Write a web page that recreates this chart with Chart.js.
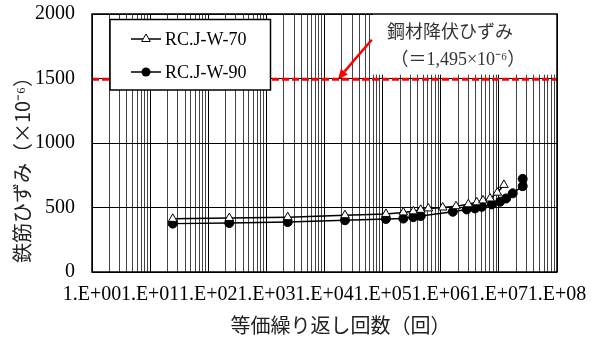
<!DOCTYPE html>
<html><head><meta charset="utf-8">
<script src="https://cdn.jsdelivr.net/npm/chart.js@4"></script>
<style>html,body{margin:0;padding:0;background:#fff}#wrap{width:593px;height:338px}</style>
</head><body><div id="wrap"><canvas id="c" width="593" height="338"></canvas></div>
<script>
// ---- data ----
const seriesNames = ['RC.J-W-70', 'RC.J-W-90'];
const cycles70 = [24.5, 230, 2330, 22500, 114000, 227000, 337000, 452000, 611000, 1080000, 1830000, 2980000, 4160000, 5330000, 7040000, 9400000, 12200000];
const strain70 = [412, 418, 425, 440, 450, 462, 470, 482, 493, 500, 510, 525, 540, 555, 570, 615, 675];
const cycles90 = [24.5, 230, 2330, 22500, 114000, 227000, 337000, 452000, 1610000, 2800000, 3880000, 5070000, 7530000, 10500000, 13300000, 17300000, 25700000, 25700000];
const strain90 = [375, 380, 387, 401, 411, 414, 425, 434, 467, 485, 493, 505, 524, 545, 570, 610, 665, 722];
const yieldStrain = 1495;
const yieldRange = [1, 1e8];
const xTickLabels = ['1.E+00', '1.E+01', '1.E+02', '1.E+03', '1.E+04', '1.E+05', '1.E+06', '1.E+07', '1.E+08'];
const yTickValues = [0, 500, 1000, 1500, 2000];
const xTitle = '等価繰り返し回数（回）';
const yTitle = '鉄筋ひずみ（×10⁻⁶）';
const noteLines = ['鋼材降伏ひずみ', '（＝1,495×10⁻⁶）'];
const arrowFrom = [65000, 1800];
const arrowTo = [17000, 1495];
const noteBoxCorner = [68000, 1530];

// log tick values 1..9 x 10^e
const xTickValues = [];
for (let e = 0; e < 8; e++) for (let m = 1; m <= 9; m++) xTickValues.push(Number((m * Math.pow(10, e)).toPrecision(12)));
xTickValues.push(1e8);
const isDecade = v => Math.abs(Math.log10(v) - Math.round(Math.log10(v))) < 1e-9;

const SERIF = '"Liberation Serif", "Noto Sans CJK JP"';
const CJK = '"Noto Sans CJK JP", "Liberation Serif"';

const decor = {
  id: 'decor',
  afterDatasetsDraw(chart) {
    const ctx = chart.ctx, a = chart.chartArea, xs = chart.scales.x, ys = chart.scales.y;
    ctx.save();
    // note box
    const bx = xs.getPixelForValue(noteBoxCorner[0]), by = ys.getPixelForValue(noteBoxCorner[1]);
    ctx.fillStyle = '#fff';
    ctx.fillRect(bx, a.top, a.right - bx, by - a.top);
    // legend box
    const lx = a.left + 18, ly = a.top + 5.5, lw = 160.5, lh = 70.5;
    ctx.fillRect(lx, ly, lw, lh);
    ctx.strokeStyle = '#000'; ctx.lineWidth = 1.5;
    ctx.strokeRect(lx, ly, lw, lh);
    const rows = [ly + 19.5, ly + 52.5];
    chart.data.datasets.slice(0, 2).forEach((ds, i) => {
      const y = rows[i];
      ctx.strokeStyle = '#000'; ctx.lineWidth = 1.5;
      ctx.beginPath(); ctx.moveTo(lx + 21, y); ctx.lineTo(lx + 51, y); ctx.stroke();
      const cx = lx + 36;
      ctx.lineWidth = 1;
      if (ds.pointStyle === 'triangle') {
        const r = ds.pointRadius;
        ctx.beginPath();
        for (let k = 0; k < 3; k++) { const ang = k * 2 * Math.PI / 3; const px = cx + Math.sin(ang) * r, py = y - Math.cos(ang) * r; k ? ctx.lineTo(px, py) : ctx.moveTo(px, py); }
        ctx.closePath(); ctx.fillStyle = '#fff'; ctx.fill(); ctx.stroke();
      } else {
        ctx.beginPath(); ctx.arc(cx, y, ds.pointRadius, 0, Math.PI * 2); ctx.fillStyle = '#000'; ctx.fill();
      }
      ctx.fillStyle = '#000'; ctx.font = '18px ' + SERIF; ctx.textAlign = 'left'; ctx.textBaseline = 'middle';
      ctx.fillText(ds.label, lx + 55, y + 1);
    });
    // frame
    ctx.strokeStyle = '#000'; ctx.lineWidth = 1.5;
    ctx.strokeRect(a.left, a.top, a.right - a.left, a.bottom - a.top);
    // note text
    ctx.fillStyle = '#333'; ctx.textAlign = 'center'; ctx.textBaseline = 'middle';
    ctx.font = '18px ' + SERIF;
    ctx.fillText(noteLines[0], bx + 77, a.top + 19);
    ctx.fillText(noteLines[1], bx + 85, a.top + 46);
    // arrow
    const x1 = xs.getPixelForValue(arrowFrom[0]), y1 = ys.getPixelForValue(arrowFrom[1]);
    const x2 = xs.getPixelForValue(arrowTo[0]), y2 = ys.getPixelForValue(arrowTo[1]);
    const ang = Math.atan2(y2 - y1, x2 - x1), hl = 10, hw = 4.5;
    const bx2 = x2 - Math.cos(ang) * hl, by2 = y2 - Math.sin(ang) * hl;
    ctx.strokeStyle = '#ff0000'; ctx.fillStyle = '#ff0000'; ctx.lineWidth = 2.5;
    ctx.beginPath(); ctx.moveTo(x1, y1); ctx.lineTo(bx2, by2); ctx.stroke();
    ctx.beginPath(); ctx.moveTo(x2, y2);
    ctx.lineTo(bx2 + Math.sin(ang) * hw, by2 - Math.cos(ang) * hw);
    ctx.lineTo(bx2 - Math.sin(ang) * hw, by2 + Math.cos(ang) * hw);
    ctx.closePath(); ctx.fill();
    // axis titles
    ctx.fillStyle = '#222'; ctx.font = '20px ' + CJK;
    ctx.textAlign = 'center'; ctx.textBaseline = 'middle';
    ctx.fillText(xTitle, (a.left + a.right) / 2 + 16, 325);
    ctx.translate(22, (a.top + a.bottom) / 2 + 22);
    ctx.rotate(-Math.PI / 2);
    ctx.fillText(yTitle, 0, 0);
    ctx.restore();
  }
};

new Chart(document.getElementById('c'), {
  type: 'scatter',
  data: {
    datasets: [
      { label: seriesNames[0], data: cycles70.map((x, i) => ({ x, y: strain70[i] })), showLine: true,
        borderColor: '#000', borderWidth: 1.5, pointStyle: 'triangle', pointRadius: 5, pointBackgroundColor: '#fff', pointBorderColor: '#000', pointBorderWidth: 1 },
      { label: seriesNames[1], data: cycles90.map((x, i) => ({ x, y: strain90[i] })), showLine: true,
        borderColor: '#000', borderWidth: 1.5, pointStyle: 'circle', pointRadius: 4.5, pointBackgroundColor: '#000', pointBorderColor: '#000', pointBorderWidth: 1 },
      { label: 'yield', data: yieldRange.map(x => ({ x, y: yieldStrain })), showLine: true,
        borderColor: '#ff0000', borderWidth: 3, borderDash: [7, 3], pointRadius: 0 }
    ]
  },
  options: {
    responsive: false, animation: false, devicePixelRatio: 1,
    layout: { padding: { left: 0, top: 14, right: 36, bottom: 0 } },
    plugins: { legend: { display: false }, tooltip: { enabled: false } },
    scales: {
      x: {
        type: 'logarithmic', min: 1, max: 1e8,
        afterBuildTicks: s => { s.ticks = xTickValues.map(v => ({ value: v, major: isDecade(v) })); },
        afterFit: s => { s.height = 66; s.paddingLeft = 0; s.paddingRight = 0; },
        ticks: { autoSkip: false, maxRotation: 0, minRotation: 0, padding: 11, color: '#000',
          font: { family: SERIF, size: 20 },
          callback: v => isDecade(v) ? xTickLabels[Math.round(Math.log10(v))] : '' },
        grid: { drawTicks: false, color: c => (c.tick && isDecade(c.tick.value)) ? '#000' : '#444', lineWidth: 1 },
        border: { display: false }
      },
      y: {
        min: 0, max: 2000,
        afterBuildTicks: s => { s.ticks = yTickValues.map(v => ({ value: v })); },
        afterFit: s => { s.width = 92; s.paddingTop = 0; s.paddingBottom = 0; },
        ticks: { padding: 17, color: '#000', font: { family: SERIF, size: 20 }, callback: v => String(v) },
        grid: { drawTicks: false, color: '#000', lineWidth: 1 },
        border: { display: false }
      }
    }
  },
  plugins: [decor]
});
</script></body></html>
